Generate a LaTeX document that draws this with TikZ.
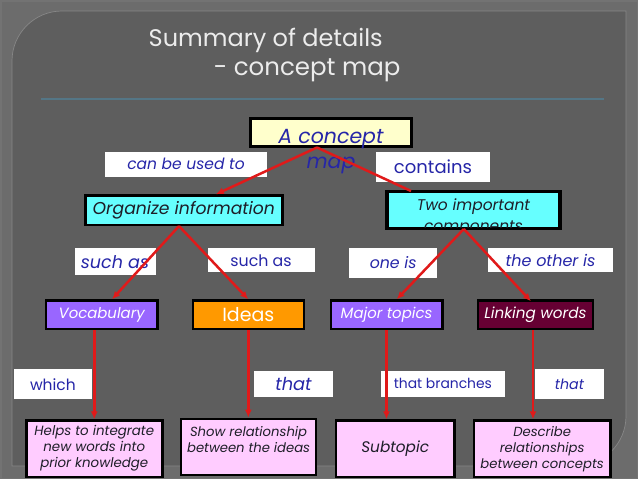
\documentclass[tikz,border=0pt]{standalone}
\usepackage{fontspec}
\setmainfont{Poppins}
\usetikzlibrary{arrows.meta}

\definecolor{outerbg}{RGB}{108,108,108}
\definecolor{panelbg}{RGB}{94,94,94}
\definecolor{paneledge}{RGB}{135,135,135}
\definecolor{rulecol}{RGB}{84,118,134}
\definecolor{titlegrey}{RGB}{236,236,236}
\definecolor{linkblue}{RGB}{38,38,168}
\definecolor{linkred}{RGB}{224,26,26}
\definecolor{conceptyellow}{RGB}{255,255,204}
\definecolor{conceptcyan}{RGB}{102,255,255}
\definecolor{conceptpurple}{RGB}{153,102,255}
\definecolor{conceptorange}{RGB}{255,153,0}
\definecolor{conceptmaroon}{RGB}{102,0,51}
\definecolor{conceptpink}{RGB}{255,204,255}
\definecolor{textdark}{RGB}{30,30,40}

\newcommand{\txtsize}[2]{\fontsize{#1}{#2}\selectfont}

\tikzset{
	concept/.style = {draw = black, line width = 2.4pt, inner sep = 0pt, align = center, text = textdark, font = \itshape},
	linklabel/.style = {fill = white, inner sep = 0pt, text = linkblue},
	link/.style = {linkred, line width = 2.5pt},
}

\begin{document}
\begin{tikzpicture}[x = 1pt, y = -1pt, > = {Latex[length = 8pt, width = 7pt]}]

	\useasboundingbox (0, 0) rectangle (638, 479);

	% Background

	\fill [outerbg] (0, 0) rectangle (638, 479);
	\draw [black!55, line width = 1.5pt] (0.75, 0.75) rectangle (637.25, 478.25);
	\fill [panelbg] (12, 466) -- (12, 61) .. controls (12, 33.4) and (34.4, 11) .. (62, 11) -- (626, 11) -- (626, 416) .. controls (626, 443.6) and (603.6, 466) .. (576, 466) -- cycle;
	\draw [paneledge, line width = 0.7pt] (12, 466) -- (12, 61) .. controls (12, 33.4) and (34.4, 11) .. (62, 11) -- (626, 11) -- (626, 416) .. controls (626, 443.6) and (603.6, 466) .. (576, 466) -- cycle;

	% Title

	\node [anchor = base west, inner sep = 0pt, text = titlegrey, font = \txtsize{24}{30}] (title) at (148.5, 46) {Summary of details};
	\node [anchor = base west, inner sep = 0pt, text = titlegrey, font = \txtsize{24.5}{30}] (subtitle) at (213.6, 75) {- concept map};
	\draw [rulecol, line width = 2pt] (40.7, 99) -- (604, 99);

	% Labels

	\node [linklabel, minimum width = 162pt, minimum height = 25pt, font = \txtsize{15.5}{18}\itshape] (usedto) at (186, 164.2) {can be used to};
	\node [linklabel, minimum width = 114pt, minimum height = 30pt, font = \txtsize{18}{21}] (contains) at (433, 166.7) {contains};
	\node [linklabel, minimum width = 81pt, minimum height = 26.7pt, font = \txtsize{17.5}{20}\itshape] (suchvoc) at (115, 261.7) {such as};
	\node [linklabel, minimum width = 107pt, minimum height = 24pt, font = \txtsize{15.8}{18}] (suchideas) at (261, 260.3) {such as};
	\node [linklabel, minimum width = 88.3pt, minimum height = 29.4pt, font = \txtsize{15.8}{18}\itshape] (oneis) at (393.2, 263) {one is};
	\node [linklabel, minimum width = 125pt, minimum height = 24pt, font = \txtsize{16}{18}\itshape] (otheris) at (550.5, 260.3) {the other is};
	\node [linklabel, minimum width = 77.3pt, minimum height = 30pt, font = \txtsize{15.5}{18}] (which) at (52.9, 384.3) {which};
	\node [linklabel, minimum width = 78.5pt, minimum height = 25.7pt, font = \txtsize{17.8}{20}\itshape] (thatideas) at (293.5, 383.8) {that};
	\node [linklabel, minimum width = 123.3pt, minimum height = 25.7pt, font = \txtsize{13.9}{16}] (branches) at (442.9, 383.8) {that branches};
	\node [linklabel, minimum width = 69pt, minimum height = 30pt, font = \txtsize{14.2}{16}\itshape] (thatlink) at (569.5, 384.3) {that};

	% Concepts

	\node [concept, fill = conceptyellow, minimum width = 161.6pt, minimum height = 28pt, line width = 3pt] (cmap) at (331, 132) {};
	\node [inner sep = 0pt, align = center, text = linkblue, font = \txtsize{20.5}{25}\itshape] (cmaptext) at (331, 152) {A concept\\map};

	\node [concept, fill = conceptcyan, minimum width = 197pt, minimum height = 29.3pt, font = \txtsize{17.2}{20}\itshape] (organize) at (183.8, 210.2) {Organize information};

	\node [concept, fill = conceptcyan, minimum width = 171.7pt, minimum height = 35.6pt] (two) at (473.5, 210) {};
	\begin{scope}
		\clip (two.south west) rectangle (two.north east);
		\node [inner sep = 0pt, align = center, text = textdark, font = \txtsize{15.5}{21}\itshape] (twotext) at (473.5, 217) {Two important\\components};
	\end{scope}
	\draw [line width = 2.4pt] (two.south west) rectangle (two.north east);

	\node [concept, fill = conceptpurple, text = white, minimum width = 111.5pt, minimum height = 28.3pt, font = \txtsize{14.9}{17}\itshape] (vocab) at (101.7, 314.7) {Vocabulary};
	\node [concept, fill = conceptorange, text = white, minimum width = 111pt, minimum height = 28.3pt, font = \txtsize{19}{20}] (ideas) at (248.3, 314.7) {Ideas};
	\node [concept, fill = conceptpurple, text = white, minimum width = 111.6pt, minimum height = 28.3pt, font = \txtsize{14.9}{17}\itshape] (major) at (386.5, 314.7) {Major topics};
	\node [concept, fill = conceptmaroon, text = white, minimum width = 114.8pt, minimum height = 28.3pt, font = \txtsize{15.2}{17}\itshape] (linking) at (535.4, 314.7) {Linking words};

	\node [concept, fill = conceptpink, minimum width = 136pt, minimum height = 56.3pt, font = \txtsize{13.4}{16}\itshape] (helps) at (94.3, 448.7) {Helps to integrate\\new words into\\prior knowledge};
	\node [concept, fill = conceptpink, minimum width = 135pt, minimum height = 56.3pt, font = \txtsize{13.2}{16}\itshape] (show) at (248.6, 447) {Show relationship\\between the ideas\\\mbox{}};
	\node [concept, fill = conceptpink, minimum width = 118.4pt, minimum height = 56.3pt, font = \txtsize{15.3}{18}\itshape] (subtopic) at (395.2, 448.7) {Subtopic};
	\node [concept, fill = conceptpink, minimum width = 136.4pt, minimum height = 56.3pt, font = \txtsize{13.2}{16}\itshape] (describe) at (542.1, 448.7) {Describe\\relationships\\between concepts};

	% Links

	\draw [link, ->] ([xshift = -14pt] cmap.south) -- ([xshift = 32pt] organize.north);
	\draw [link] ([xshift = -14pt] cmap.south) -- ([xshift = -62.5pt] two.north);

	\draw [link, ->] ([xshift = -4.8pt] organize.south) -- ([xshift = 10.3pt] vocab.north);
	\draw [link, ->] ([xshift = -4.8pt] organize.south) -- (ideas.north);
	\draw [link, ->] ([xshift = -9.7pt] two.south) -- ([xshift = 10.2pt] major.north);
	\draw [link, ->] ([xshift = -9.7pt] two.south) -- ([xshift = -4.4pt, yshift = -2pt] linking.north);

	\draw [link, ->] (helps.north |- vocab.south) -- (helps.north);
	\draw [link, ->] (ideas.south) -- (ideas.south |- show.north);
	\draw [link, ->] (major.south) -- (major.south |- subtopic.north);
	\draw [link, ->] ([xshift = -2.4pt] linking.south) -- ([xshift = -2.4pt] linking.south |- describe.north);

\end{tikzpicture}
\end{document}
